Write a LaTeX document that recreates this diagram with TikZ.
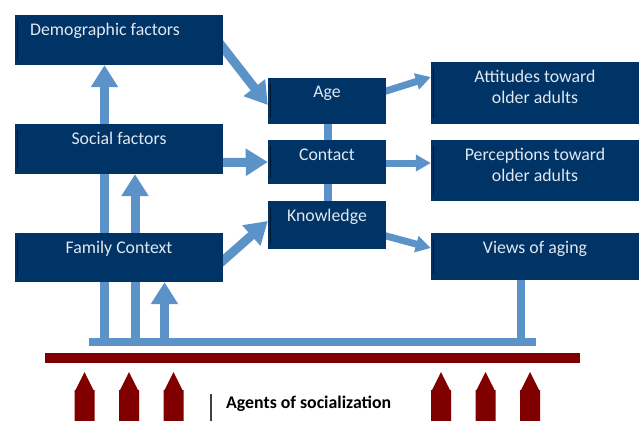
\documentclass[tikz,border=0pt]{standalone}
\usepackage{fontspec}
\setmainfont{Carlito}
\usetikzlibrary{arrows.meta,backgrounds}

\definecolor{boxnavy}{RGB}{0,51,102}
\definecolor{boxedge}{RGB}{0,22,45}
\definecolor{linkblue}{RGB}{91,146,200}
\definecolor{agentred}{RGB}{128,0,0}
\definecolor{boxtext}{RGB}{226,232,240}

\tikzset{
  box/.style={fill=boxnavy, draw=none, inner sep=0pt, minimum width=#1,
    path picture={\draw[boxedge, line width=1.6pt]
      ([xshift=2.5pt,yshift=-6pt]path picture bounding box.north west) --
      ([xshift=2.5pt,yshift=6pt]path picture bounding box.south west);}},
  box/.default=208pt,
  boxlabel/.style={anchor=base, inner sep=0pt, text=boxtext,
    font=\fontsize{17.8}{21}\selectfont},
  link/.style={draw=linkblue, line width=8.5pt},
  bigarrow/.style={draw=linkblue, line width=9pt,
    -{Triangle[width=26pt,length=22pt]}, fill=linkblue},
  smallarrow/.style={draw=linkblue, line width=7pt,
    -{Triangle[width=16pt,length=15pt]}, fill=linkblue},
  pics/agentarrow/.style={code={
    \fill[agentred] (-10,49) -- (-10,18) -- (-9,18) -- (0,0) -- (9,18)
      -- (10,18) -- (10,49) -- cycle;}}
}

\begin{document}
\begin{tikzpicture}[x=1pt,y=-1pt]
\useasboundingbox (0,0) rectangle (641,421);

% left column: influencing factors
\node[box, minimum height=50pt] (demo)   at (119,40)    {};
\node[box, minimum height=50pt] (social) at (119,149)   {};
\node[box, minimum height=49pt] (family) at (119,257.5) {};
% middle column
\node[box=118pt, minimum height=46pt] (age)     at (327,101) {};
\node[box=118pt, minimum height=44pt] (contact) at (327,162) {};
\node[box=118pt, minimum height=48pt] (know)    at (327,225) {};
% right column: outcomes
\node[box, minimum height=62pt] (att)   at (535,93)    {};
\node[box, minimum height=61pt] (perc)  at (535,170.5) {};
\node[box, minimum height=47pt] (views) at (535,256.5) {};

% box texts
\node[boxlabel] at ([xshift=-14pt,yshift=-21pt]demo.north) {Demographic factors};
\node[boxlabel] at ([yshift=-21pt]social.north) {Social factors};
\node[boxlabel] at ([yshift=-21pt]family.north) {Family Context};
\node[boxlabel] at ([yshift=-20pt]age.north) {Age};
\node[boxlabel] at ([yshift=-21pt]contact.north) {Contact};
\node[boxlabel] at ([yshift=-21pt]know.north) {Knowledge};
\node[boxlabel] at ([yshift=-21pt]att.north)
  {\begin{tabular}[t]{@{}c@{}}Attitudes toward\\older adults\end{tabular}};
\node[boxlabel] at ([yshift=-21pt]perc.north)
  {\begin{tabular}[t]{@{}c@{}}Perceptions toward\\older adults\end{tabular}};
\node[boxlabel] at ([yshift=-21pt]views.north) {Views of aging};

% bus of socialization agents
\coordinate (busL) at (89,342);
\coordinate (busR) at (536,342);

\begin{scope}[on background layer]
  \draw[link] (busL) -- (busR);
  \draw[link] ([xshift=-14pt]views.south) -- ([xshift=-14pt]views.south |- busR);
  \draw[bigarrow] ([xshift=-14.5pt]demo.south |- busL) -- ([xshift=-14.5pt]demo.south);
  \draw[bigarrow] ([xshift=16pt]social.south |- busL) -- ([xshift=16pt]social.south);
  \draw[bigarrow] ([xshift=45.5pt]family.south |- busL) -- ([xshift=45.5pt]family.south);
  % links between the middle boxes
  \draw[link] ([xshift=1pt]age.south) -- ([xshift=1pt]contact.north);
  \draw[link] ([xshift=1pt]contact.south) -- ([xshift=1pt]know.north);
  % factors into the middle column
  \draw[bigarrow, shorten <=-10pt] ([yshift=-33pt]demo.north east) -- ([yshift=-4pt]age.west);
  \draw[bigarrow, shorten <=-10pt] ([yshift=-13.5pt]social.east) -- (contact.west);
  \draw[bigarrow, shorten <=-10pt] ([yshift=-3pt]family.east) -- ([yshift=4pt]know.west);
  % middle column into outcomes
  \draw[smallarrow, shorten <=-8pt] ([yshift=10pt]age.east) -- ([yshift=16pt]att.west);
  \draw[smallarrow, shorten <=-8pt] ([yshift=-1pt]contact.east) -- ([yshift=7.5pt]perc.west);
  \draw[smallarrow, shorten <=-8pt] ([yshift=-11pt]know.east) -- ([yshift=8.5pt]views.west);
\end{scope}

% red base bar and agent arrows
\fill[agentred] (45,353) rectangle (580,363);
\foreach \cx in {84.5,129,173.5,441,485.5,530}
  \pic at (\cx,372) {agentarrow};

% caption
\draw[black!75, line width=1.2pt] (211,394) -- (211,421);
\node[anchor=base west, inner sep=0pt, font=\fontsize{17.8}{21}\selectfont\bfseries]
  (agents) at (226,408) {Agents of socialization};
\end{tikzpicture}
\end{document}
